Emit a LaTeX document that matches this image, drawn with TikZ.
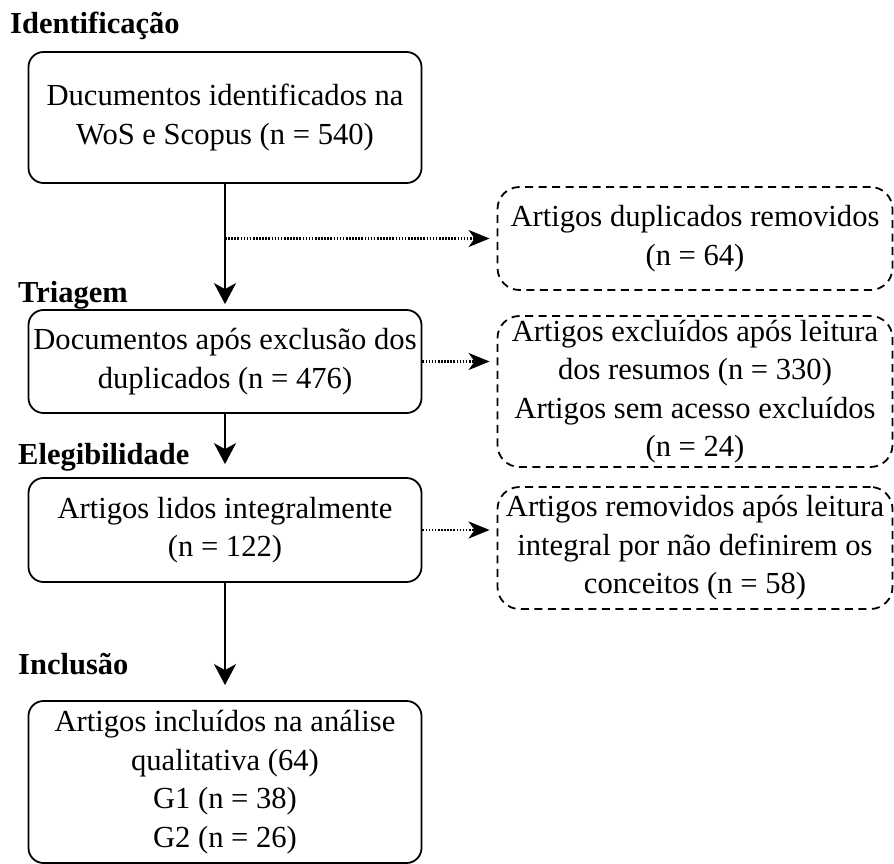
\documentclass[tikz,border=0pt]{standalone}
\usepackage{fontspec}
\setmainfont{Liberation Serif}
\usetikzlibrary{arrows.meta,positioning,calc}

\begin{document}
\begin{tikzpicture}[x=1pt, y=-1pt, >={Stealth[length=21pt,width=22pt,inset=6pt]},
  box/.style={draw, line width=1.8pt, rounded corners=15pt, align=center, minimum width=393pt, inner sep=1pt, font=\fontsize{30.6}{38.5}\selectfont},
  outbox/.style={box, dashed, dash pattern=on 8pt off 5.5pt, rounded corners=22pt, minimum width=395pt},
  phase/.style={anchor=base west, inner sep=0pt, font=\fontsize{30.5}{36}\selectfont\bfseries},
  flow/.style={->, line width=1.8pt},
  skip/.style={->, line width=2.4pt, dash pattern=on 1.6pt off 1.5pt, >={Stealth[length=21pt,width=17pt,inset=6pt]}}]
\useasboundingbox (0,0) rectangle (894,864);
% phases
\node[phase] (lid) at (10,34) {Identificação};
\node[phase] (ltri) at (18,302) {Triagem};
\node[phase] (lele) at (18,464) {Elegibilidade};
\node[phase] (linc) at (18,674) {Inclusão};
% main column
\node[box, minimum height=131pt] (ident) at (225,117.5) {Ducumentos identificados na\\WoS e Scopus (n = 540)};
\node[box, minimum height=103pt] (triag) at (225,361.5) {Documentos após exclusão dos\\duplicados (n = 476)};
\node[box, minimum height=104pt] (eleg) at (225,530) {Artigos lidos integralmente\\(n = 122)};
\node[box, minimum height=162pt] (incl) at (225,782) {Artigos incluídos na análise\\qualitativa (64)\\G1 (n = 38)\\G2 (n = 26)};
% removed records
\node[outbox, minimum height=103pt] (dup) at (695,238.5) {Artigos duplicados removidos\\(n = 64)};
\node[outbox, minimum height=151pt] (resum) at (695,391.5) {Artigos excluídos após leitura\\dos resumos (n = 330)\\Artigos sem acesso excluídos\\(n = 24)};
\node[outbox, minimum height=122pt] (integ) at (695,548) {Artigos removidos após leitura\\integral por não definirem os\\conceitos (n = 58)};
\coordinate (split) at (ident.south |- dup.west);
% connectors
\draw[flow, shorten >=5pt] (ident) -- (triag);
\draw[flow, shorten >=13pt] (triag) -- (eleg);
\draw[flow, shorten >=15pt] (eleg) -- (incl);
\draw[skip, shorten >=7pt] (split) -- (dup.west);
\draw[skip, shorten >=7pt] (triag.east) -- (triag.east -| resum.west);
\draw[skip, shorten >=7pt] (eleg.east) -- (eleg.east -| integ.west);
\end{tikzpicture}
\end{document}
